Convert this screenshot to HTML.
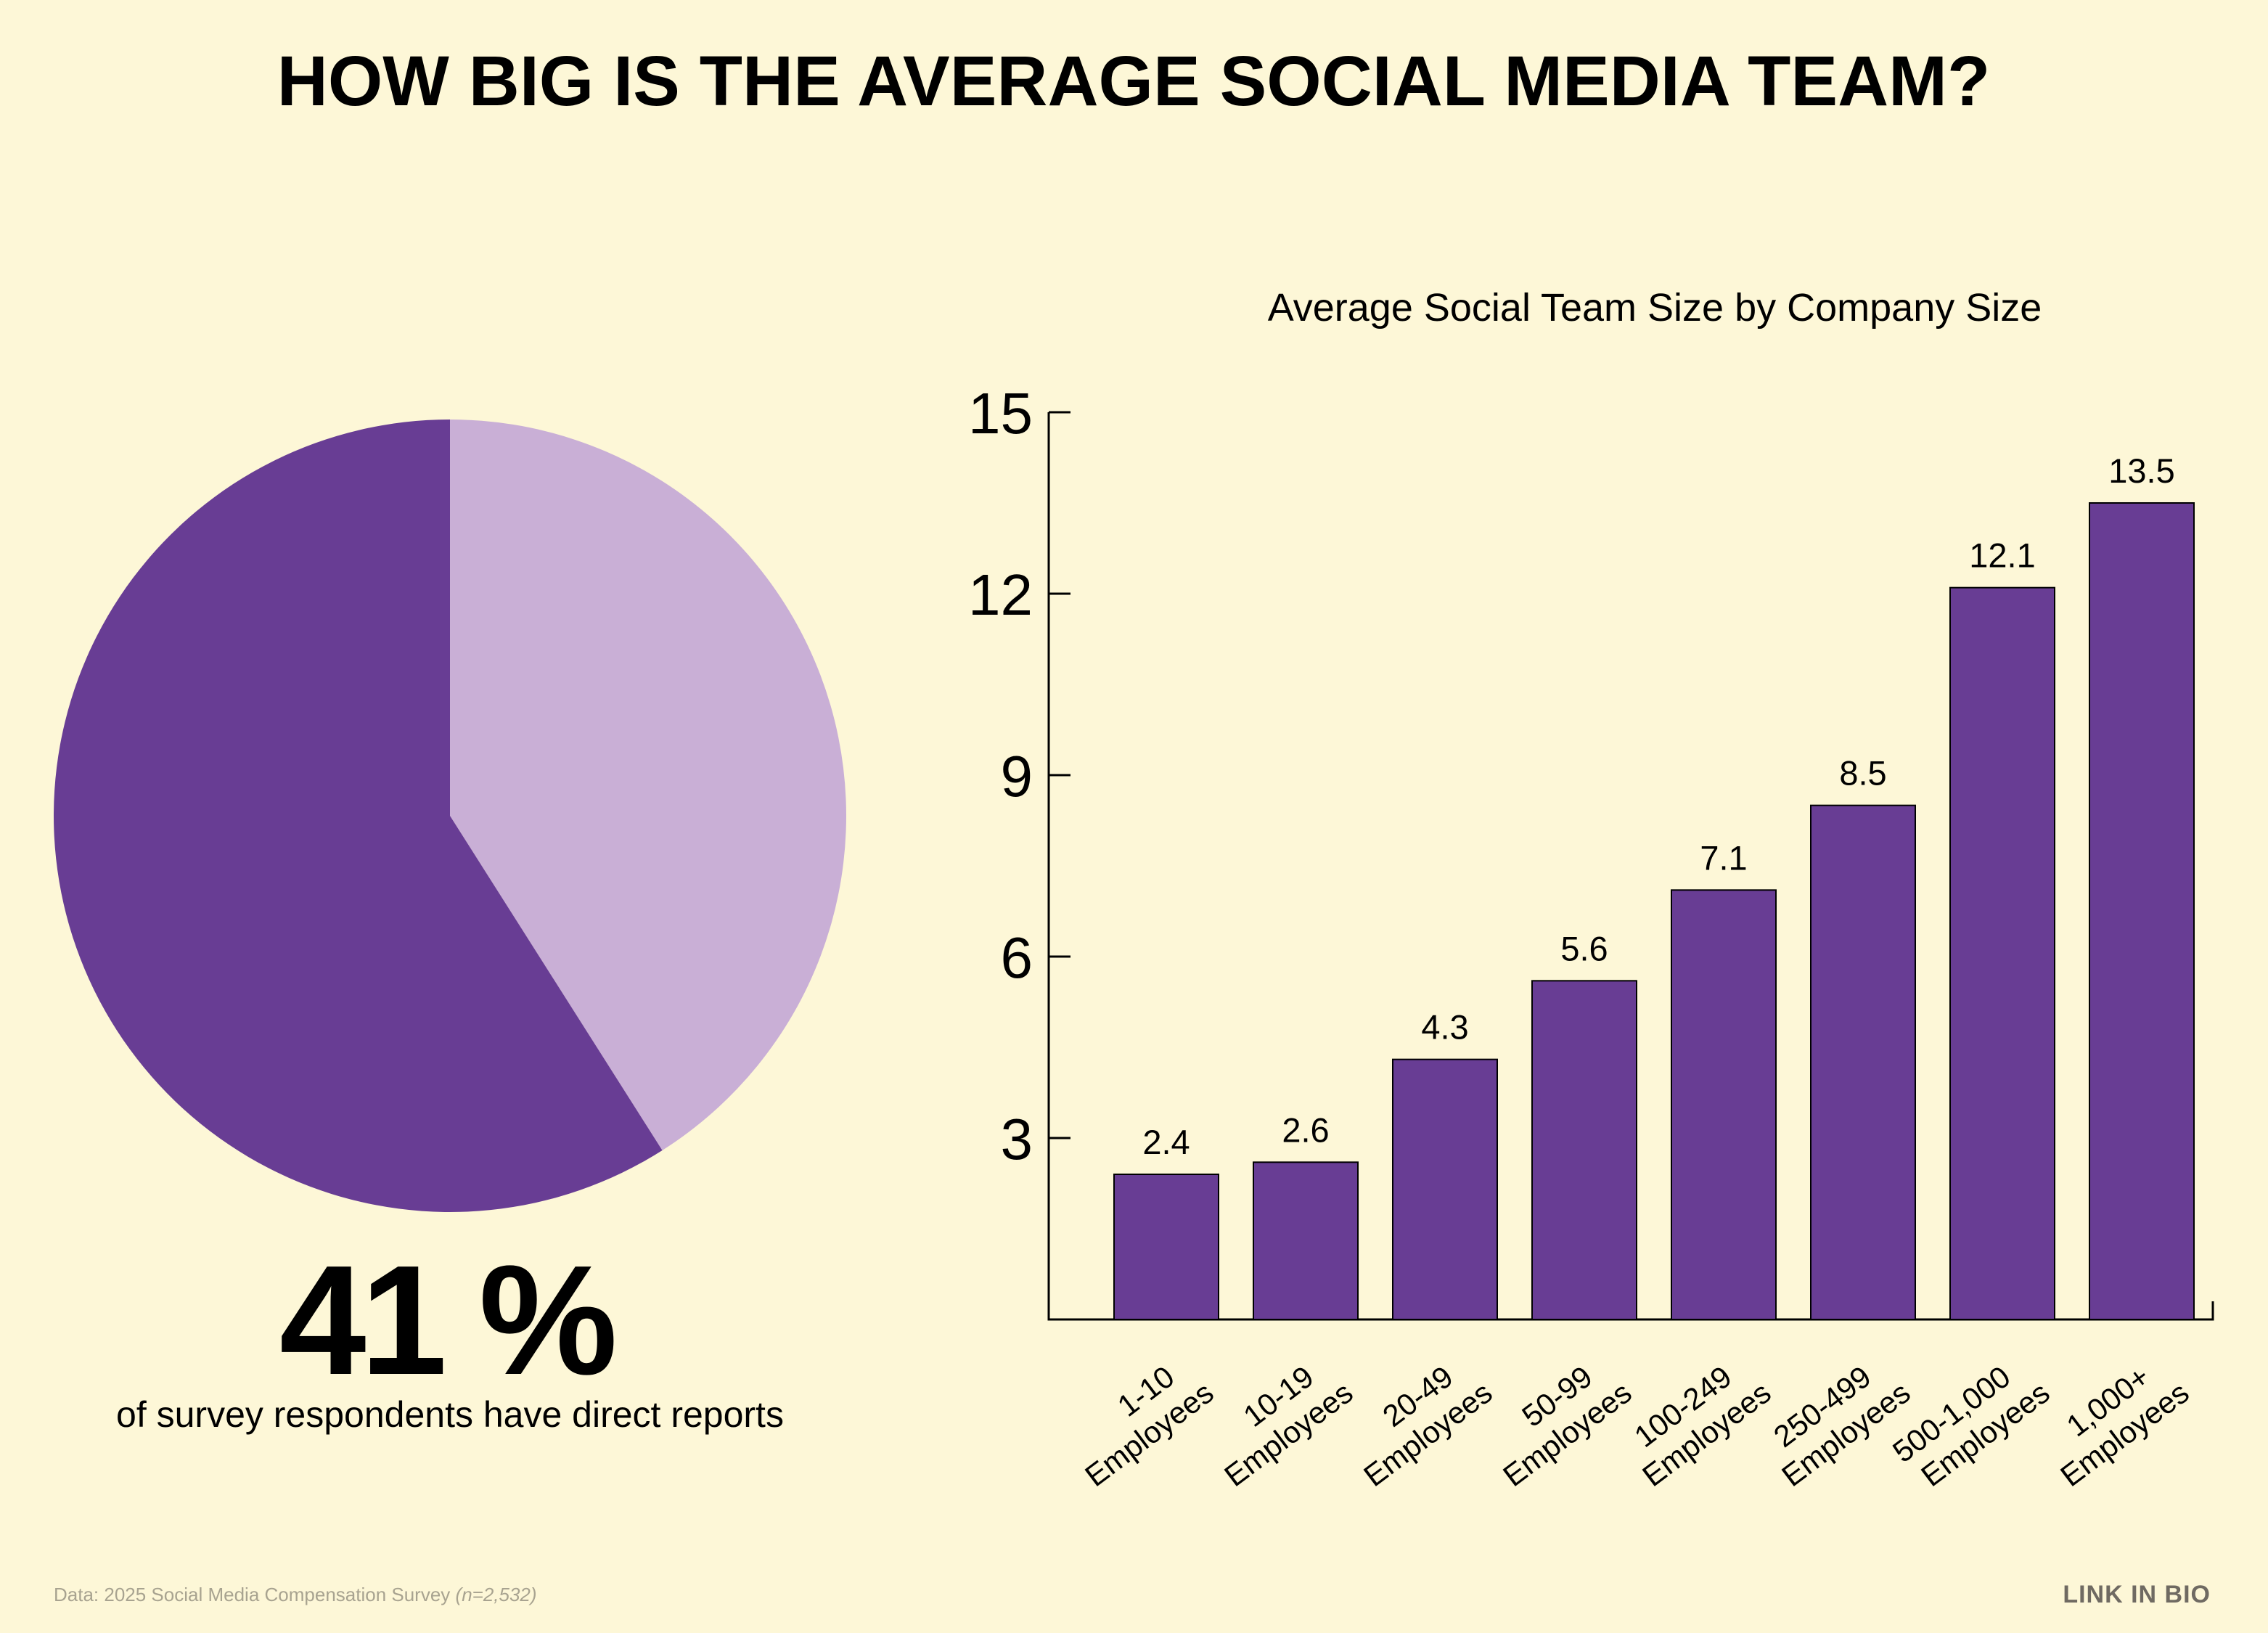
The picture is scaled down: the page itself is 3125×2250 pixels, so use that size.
<!DOCTYPE html>
<html><head><meta charset="utf-8"><style>
html,body{margin:0;padding:0;background:#fdf7d7;}
svg{display:block;font-family:"Liberation Sans",Arial,sans-serif;}
</style></head><body>
<svg id="c" width="3125" height="2250" viewBox="0 0 3125 2250" xmlns="http://www.w3.org/2000/svg">
<rect width="3125" height="2250" fill="#fdf7d7"/>
<text x="1562" y="145" text-anchor="middle" font-size="97" font-weight="bold" fill="#000">HOW BIG IS THE AVERAGE SOCIAL MEDIA TEAM?</text>
<g id="pie"></g>
<text x="614" y="1893" text-anchor="middle" font-size="215" font-weight="bold" fill="#000" letter-spacing="-8">41 %</text>
<text x="620" y="1966" text-anchor="middle" font-size="50" fill="#000">of survey respondents have direct reports</text>
<text x="2280" y="442" text-anchor="middle" font-size="54" fill="#000">Average Social Team Size by Company Size</text>
<g id="bars"></g>
<text x="74" y="2206" font-size="26" fill="#a8a390">Data: 2025 Social Media Compensation Survey  <tspan font-style="italic">(n=2,532)</tspan></text>
<text x="3046" y="2208" text-anchor="end" font-size="34" font-weight="bold" fill="#6f6a62" letter-spacing="1">LINK IN BIO</text>
</svg>
<script>
const pieValues = [41, 59];
const pieLabels = ['has-direct-reports', 'no-direct-reports'];
const categories = ['1-10','10-19','20-49','50-99','100-249','250-499','500-1,000','1,000+'];
const values = [2.4, 2.6, 4.3, 5.6, 7.1, 8.5, 12.1, 13.5];
const valueLabels = ['2.4','2.6','4.3','5.6','7.1','8.5','12.1','13.5'];
const yTicks = [3, 6, 9, 12, 15];

const NS='http://www.w3.org/2000/svg';
function mk(tag, attrs, parent){const e=document.createElementNS(NS,tag);for(const k in attrs)e.setAttribute(k,attrs[k]);parent.appendChild(e);return e;}

const pie=document.getElementById('pie');
const cx=620, cy=1124, R=546, colors=['#c9afd6','#683d94'];
const tot=pieValues.reduce((a,b)=>a+b,0);
let a0=0;
pieValues.forEach((v,i)=>{
  const a1=a0+v/tot*2*Math.PI;
  const x0=cx+R*Math.sin(a0), y0=cy-R*Math.cos(a0);
  const x1=cx+R*Math.sin(a1), y1=cy-R*Math.cos(a1);
  const large=(a1-a0)>Math.PI?1:0;
  const p=mk('path',{d:`M${cx},${cy} L${x0},${y0} A${R},${R} 0 ${large} 1 ${x1},${y1} Z`,fill:colors[i]},pie);
  
  
  a0=a1;
});

const g=document.getElementById('bars');
const axX=1445, baseY=1818, pxPerUnit=1250/15, axRight=3049;
const y=v=>baseY-v*pxPerUnit;
const bx=i=>1535+i*192, bw=144;
const ax=mk('path',{d:`M${axX},${y(15)} V${baseY} H${axRight} V${baseY-25}`,stroke:'#000','stroke-width':3,fill:'none'},g);


yTicks.forEach(t=>{
  const tk=mk('line',{x1:axX,x2:axX+30,y1:y(t),y2:y(t),stroke:'#000','stroke-width':3},g);
  
  
  const tl=mk('text',{x:axX-22,y:y(t)+29,'text-anchor':'end','font-size':80,fill:'#000'},g);
  tl.textContent=t;
  
  
});
values.forEach((v,i)=>{
  const r=mk('rect',{x:bx(i),y:y(v),width:bw,height:baseY-y(v),fill:'#683d94',stroke:'#000','stroke-width':2},g);
  
  
  const vl=mk('text',{x:bx(i)+bw/2,y:y(v)-28,'text-anchor':'middle','font-size':47,fill:'#000'},g);
  vl.textContent=valueLabels[i];
  
  
  const lx=bx(i)+bw/2+38, ly=1885;
  const xl=mk('text',{x:lx,y:ly,'text-anchor':'end','font-size':42,fill:'#000',transform:`rotate(-37 ${lx} ${ly})`},g);
  
  
  const t1=mk('tspan',{x:lx-30,dy:0},xl); t1.textContent=categories[i];
  const t2=mk('tspan',{x:lx,dy:50},xl); t2.textContent='Employees';
});
</script>
</body></html>
